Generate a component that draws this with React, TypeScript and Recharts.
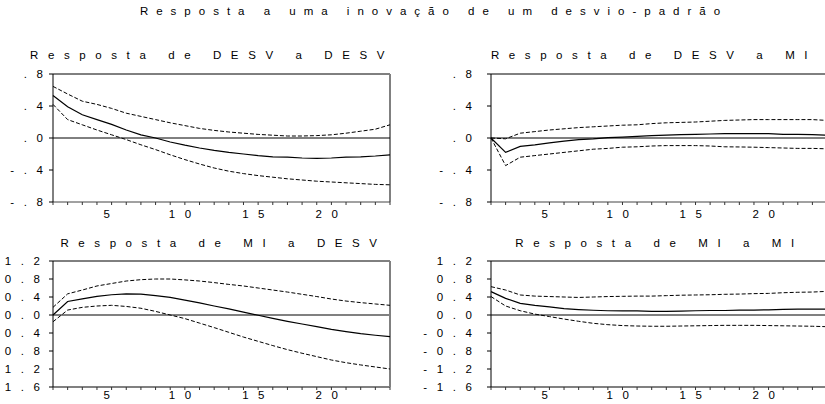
import { Line, LineChart, ReferenceLine, XAxis, YAxis } from "recharts";

const periods = [1, 2, 3, 4, 5, 6, 7, 8, 9, 10, 11, 12, 13, 14, 15, 16, 17, 18, 19, 20, 21, 22, 23, 24];
const xTicks = periods;
const xLabelled = [5, 10, 15, 20];

const topTicks = [0.8, 0.4, 0, -0.4, -0.8];
const topTickLabels = [".8", ".4", ".0", "-.4", "-.8"];
const bottomTicks = [1.2, 0.8, 0.4, 0, -0.4, -0.8, -1.2, -1.6];
const bottomTickLabels = ["1.2", "0.8", "0.4", "0.0", "-0.4", "-0.8", "-1.2", "-1.6"];

// Resposta de DESV a DESV
const desvDesvResp = [0.53, 0.39, 0.29, 0.23, 0.17, 0.1, 0.04, 0.0, -0.05, -0.09, -0.125, -0.155, -0.18, -0.2, -0.22, -0.235, -0.24, -0.25, -0.255, -0.25, -0.24, -0.235, -0.225, -0.21];
const desvDesvUpper = [0.645, 0.55, 0.46, 0.42, 0.37, 0.31, 0.27, 0.23, 0.19, 0.155, 0.12, 0.095, 0.075, 0.06, 0.045, 0.035, 0.025, 0.025, 0.03, 0.04, 0.06, 0.085, 0.11, 0.165];
const desvDesvLower = [0.42, 0.23, 0.165, 0.1, 0.04, -0.02, -0.085, -0.145, -0.21, -0.27, -0.325, -0.375, -0.415, -0.445, -0.47, -0.49, -0.51, -0.525, -0.54, -0.55, -0.56, -0.57, -0.58, -0.585];

// Resposta de DESV a MI
const desvMiResp = [0, -0.18, -0.105, -0.085, -0.06, -0.04, -0.02, -0.01, 0.005, 0.012, 0.02, 0.03, 0.037, 0.042, 0.046, 0.05, 0.055, 0.055, 0.055, 0.055, 0.046, 0.045, 0.042, 0.035];
const desvMiUpper = [0, -0.01, 0.06, 0.08, 0.1, 0.115, 0.13, 0.14, 0.15, 0.16, 0.165, 0.18, 0.19, 0.195, 0.2, 0.21, 0.22, 0.225, 0.23, 0.23, 0.23, 0.23, 0.23, 0.22];
const desvMiLower = [0, -0.345, -0.24, -0.22, -0.2, -0.18, -0.16, -0.14, -0.13, -0.115, -0.11, -0.1, -0.095, -0.095, -0.095, -0.1, -0.11, -0.112, -0.115, -0.12, -0.125, -0.13, -0.13, -0.135];

// Resposta de MI a DESV
const miDesvResp = [0.0, 0.3, 0.36, 0.415, 0.45, 0.47, 0.465, 0.43, 0.39, 0.33, 0.27, 0.2, 0.135, 0.065, -0.005, -0.075, -0.14, -0.2, -0.26, -0.32, -0.37, -0.415, -0.45, -0.48];
const miDesvUpper = [0.17, 0.47, 0.555, 0.645, 0.7, 0.755, 0.785, 0.8, 0.8, 0.78, 0.755, 0.72, 0.68, 0.645, 0.6, 0.555, 0.51, 0.46, 0.41, 0.355, 0.31, 0.275, 0.245, 0.215];
const miDesvLower = [-0.15, 0.11, 0.17, 0.2, 0.215, 0.19, 0.15, 0.08, 0.0, -0.08, -0.18, -0.28, -0.385, -0.49, -0.585, -0.68, -0.77, -0.85, -0.925, -1.0, -1.06, -1.11, -1.155, -1.2];

// Resposta de MI a MI
const miMiResp = [0.52, 0.37, 0.26, 0.215, 0.18, 0.14, 0.12, 0.105, 0.095, 0.09, 0.09, 0.08, 0.08, 0.085, 0.095, 0.1, 0.1, 0.11, 0.11, 0.115, 0.125, 0.13, 0.13, 0.13];
const miMiUpper = [0.63, 0.555, 0.445, 0.42, 0.41, 0.4, 0.39, 0.4, 0.41, 0.415, 0.42, 0.42, 0.43, 0.44, 0.445, 0.45, 0.46, 0.465, 0.475, 0.48, 0.495, 0.505, 0.51, 0.525];
const miMiLower = [0.41, 0.2, 0.095, 0.02, -0.035, -0.09, -0.14, -0.185, -0.215, -0.235, -0.245, -0.25, -0.25, -0.245, -0.24, -0.235, -0.23, -0.23, -0.23, -0.235, -0.24, -0.245, -0.25, -0.26];

const FONT = "'Liberation Sans', Arial, sans-serif";
const FS = 11.5;
const LS = 9.6;

function rows(resp: number[], upper: number[], lower: number[]) {
  return periods.map((p, i) => ({ p, resp: resp[i], upper: upper[i], lower: lower[i] }));
}

interface PanelProps {
  title: string;
  titleX: number;
  titleY: number;
  left: number;
  top: number;
  width: number;
  height: number;
  axisWidth: number;
  marginTop: number;
  marginRight: number;
  data: ReturnType<typeof rows>;
  ticks: number[];
  labels: string[];
  labelDx: number;
  xLabelDy: number;
  bottom: boolean;
}

function Panel(props: PanelProps) {
  const { ticks, labels, bottom } = props;
  const yMax = ticks[0];
  const yMin = ticks[ticks.length - 1];
  const grey = "#808080";

  const yTick = ({ x, y, payload }: any) => {
    const i = ticks.indexOf(payload.value);
    return (
      <text x={x + props.labelDx} y={y + 4.1} textAnchor="end" fontSize={FS} fontFamily={FONT} letterSpacing={LS} fill="#000">
        {labels[i]}
      </text>
    );
  };
  const xTick = ({ x, y, payload }: any) => {
    if (!xLabelled.includes(payload.value)) return <g />;
    return (
      <text x={x} y={y + props.xLabelDy} textAnchor="middle" fontSize={FS} fontFamily={FONT} letterSpacing={LS} fill="#000">
        {payload.value}
      </text>
    );
  };

  return (
    <>
      <div
        style={{
          position: "absolute",
          left: props.titleX - 250,
          top: props.titleY,
          width: 500,
          textAlign: "center",
          fontFamily: FONT,
          fontSize: FS,
          lineHeight: "12px",
          letterSpacing: LS,
          whiteSpace: "nowrap",
        }}
      >
        {props.title}
      </div>
      <div style={{ position: "absolute", left: props.left, top: props.top }}>
        <LineChart
          width={props.width}
          height={props.height}
          data={props.data}
          margin={{ top: props.marginTop, right: props.marginRight, left: 0, bottom: 0 }}
        >
          <XAxis
            dataKey="p"
            type="number"
            domain={[1, 24]}
            ticks={xTicks}
            interval={0}
            height={18}
            tickSize={3}
            tickLine={{ stroke: "#333" }}
            axisLine={bottom ? { stroke: grey, strokeWidth: 2 } : { stroke: "#444" }}
            tick={xTick}
          />
          <YAxis
            type="number"
            domain={[yMin, yMax]}
            ticks={ticks}
            interval={0}
            width={props.axisWidth}
            tickSize={4}
            tickLine={{ stroke: "#000" }}
            axisLine={{ stroke: "#000" }}
            tick={yTick}
          />
          <ReferenceLine y={yMax} stroke="#000" strokeWidth={1} />
          <ReferenceLine x={24} stroke={grey} strokeWidth={2} />
          <ReferenceLine y={0} stroke={bottom ? grey : "#000"} strokeWidth={bottom ? 2 : 1} />
          <Line type="linear" dataKey="upper" stroke="#000" strokeWidth={1} strokeDasharray="4 2" dot={false} isAnimationActive={false} />
          <Line type="linear" dataKey="lower" stroke="#000" strokeWidth={1} strokeDasharray="4 2" dot={false} isAnimationActive={false} />
          <Line type="linear" dataKey="resp" stroke="#000" strokeWidth={1.2} dot={false} isAnimationActive={false} />
        </LineChart>
      </div>
    </>
  );
}

export default function App() {
  return (
    <div style={{ position: "absolute", left: 0, top: 0, width: 825, height: 404, overflow: "hidden", background: "#fff" }}>
      <div
        style={{
          position: "absolute",
          left: 434 - 400,
          top: 4.5,
          width: 800,
          textAlign: "center",
          fontFamily: FONT,
          fontSize: FS,
          lineHeight: "12px",
          letterSpacing: 8,
          whiteSpace: "nowrap",
        }}
      >
        Resposta a uma inovação de um desvio-padrão
      </div>
      <Panel
        title="Resposta de DESV a DESV"
        titleX={212}
        titleY={49}
        left={0}
        top={40}
        width={400}
        height={180}
        axisWidth={53}
        marginTop={34}
        marginRight={10}
        data={rows(desvDesvResp, desvDesvUpper, desvDesvLower)}
        ticks={topTicks}
        labels={topTickLabels}
        labelDx={5.5}
        xLabelDy={10.6}
        bottom={false}
      />
      <Panel
        title="Resposta de DESV a MI"
        titleX={654}
        titleY={49}
        left={420}
        top={40}
        width={407}
        height={180}
        axisWidth={71}
        marginTop={34}
        marginRight={0}
        data={rows(desvMiResp, desvMiUpper, desvMiLower)}
        ticks={topTicks}
        labels={topTickLabels}
        labelDx={-3.5}
        xLabelDy={10.6}
        bottom={false}
      />
      <Panel
        title="Resposta de MI a DESV"
        titleX={223.5}
        titleY={236.5}
        left={0}
        top={225}
        width={400}
        height={180}
        axisWidth={53}
        marginTop={36}
        marginRight={10}
        data={rows(miDesvResp, miDesvUpper, miDesvLower)}
        ticks={bottomTicks}
        labels={bottomTickLabels}
        labelDx={2.5}
        xLabelDy={7}
        bottom={true}
      />
      <Panel
        title="Resposta de MI a MI"
        titleX={659.5}
        titleY={236.5}
        left={420}
        top={225}
        width={407}
        height={180}
        axisWidth={71}
        marginTop={36}
        marginRight={0}
        data={rows(miMiResp, miMiUpper, miMiLower)}
        ticks={bottomTicks}
        labels={bottomTickLabels}
        labelDx={-3.5}
        xLabelDy={7}
        bottom={true}
      />
    </div>
  );
}
